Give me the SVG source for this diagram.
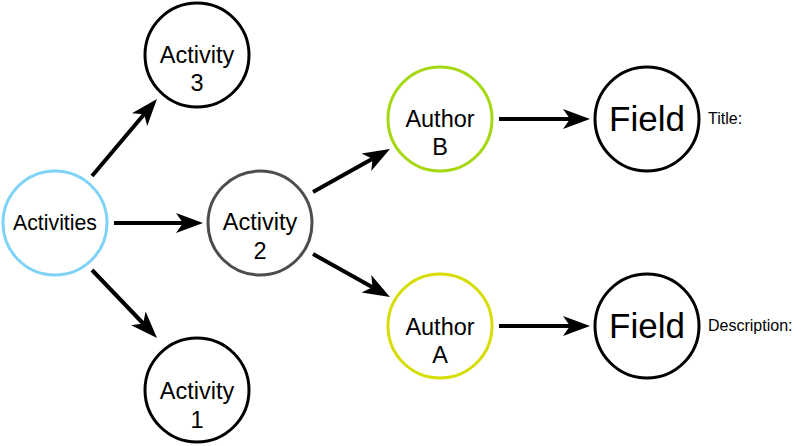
<svg xmlns="http://www.w3.org/2000/svg" width="802" height="446" viewBox="0 0 802 446">
<style>
.n{fill:#fff;stroke-width:3}
.t{font-family:"Liberation Sans",Arial,sans-serif;font-size:23.5px;fill:#000;text-anchor:middle}
.f{font-family:"Liberation Sans",Arial,sans-serif;font-size:35px;fill:#000;text-anchor:middle}
.l{font-family:"Liberation Sans",Arial,sans-serif;font-size:16px;fill:#000}
.e{stroke:#000;stroke-width:4;fill:none}
</style>
<defs>
<marker id="ah" markerUnits="userSpaceOnUse" markerWidth="30" markerHeight="24" viewBox="0 -12 30 24" refX="7" refY="0" orient="auto">
<path d="M0,-10 L27,0 L0,10 L7,0 Z" fill="#000"/>
</marker>
</defs>
<g id="edges">
<line class="e" x1="92" y1="176" x2="144.1" y2="114.3" marker-end="url(#ah)"/>
<line class="e" x1="114" y1="223" x2="183" y2="223" marker-end="url(#ah)"/>
<line class="e" x1="92" y1="270" x2="143.2" y2="323.5" marker-end="url(#ah)"/>
<line class="e" x1="313" y1="192" x2="372.5" y2="158.8" marker-end="url(#ah)"/>
<line class="e" x1="313" y1="254" x2="372.5" y2="287.2" marker-end="url(#ah)"/>
<line class="e" x1="499" y1="119" x2="570" y2="119" marker-end="url(#ah)"/>
<line class="e" x1="499" y1="326" x2="570" y2="326" marker-end="url(#ah)"/>
</g>
<g id="activities">
<circle class="n" cx="55" cy="223" r="52" stroke="#7fd3f7"/>
<text class="t" x="55" y="230" style="font-size:21.3px">Activities</text>
</g>
<g id="activity3">
<circle class="n" cx="197" cy="55" r="52" stroke="#000"/>
<text class="t" x="197" y="63">Activity</text>
<text class="t" x="197" y="91">3</text>
</g>
<g id="activity2">
<circle class="n" cx="260" cy="223" r="52" stroke="#4d4d4d"/>
<text class="t" x="260" y="230">Activity</text>
<text class="t" x="260" y="259">2</text>
</g>
<g id="activity1">
<circle class="n" cx="197" cy="390" r="52" stroke="#000"/>
<text class="t" x="197" y="399">Activity</text>
<text class="t" x="197" y="428">1</text>
</g>
<g id="authorB">
<circle class="n" cx="440" cy="119" r="52" stroke="#a5d70e"/>
<text class="t" x="440" y="127">Author</text>
<text class="t" x="440" y="155">B</text>
</g>
<g id="authorA">
<circle class="n" cx="440" cy="326" r="52" stroke="#d6dd00"/>
<text class="t" x="440" y="335">Author</text>
<text class="t" x="440" y="363">A</text>
</g>
<g id="fieldTitle">
<circle class="n" cx="647" cy="119" r="52" stroke="#000"/>
<text class="f" x="647" y="131">Field</text>
<text class="l" x="708" y="124">Title:</text>
</g>
<g id="fieldDesc">
<circle class="n" cx="647" cy="326" r="52" stroke="#000"/>
<text class="f" x="647" y="338">Field</text>
<text class="l" x="708" y="331">Description:</text>
</g>
</svg>
